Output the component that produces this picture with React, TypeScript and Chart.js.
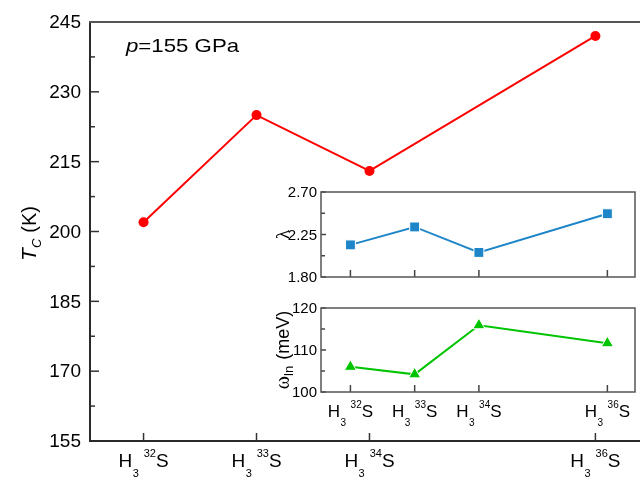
import React, { useEffect, useRef } from 'react';
import { Chart, registerables } from 'chart.js';

Chart.register(...registerables);

// ---- data ----
const isotopes = ['32', '33', '34', '36'];
const masses = [32, 33, 34, 36];
const tcValues = [202, 225, 213, 242];
const lambdaValues = [2.14, 2.33, 2.06, 2.47];
const omegaValues = [106.0, 104.2, 115.9, 111.6];
const tcTicks = [155, 170, 185, 200, 215, 230, 245];
const lambdaTicks = ['1.80', '2.25', '2.70'];
const omegaTicks = ['100', '110', '120'];
const pressureLabel = '=155 GPa';

const FONT = '"Liberation Sans", Arial, Helvetica, sans-serif';
const SERIF = '"Liberation Serif", "Times New Roman", serif';

type Run = { t: string; size: number; italic?: boolean; dy?: number; gap?: number; serif?: boolean };

function fontOf(r: Run) {
  return `${r.italic ? 'italic ' : ''}${r.size}px ${r.serif ? SERIF : FONT}`;
}
function runsWidth(ctx: CanvasRenderingContext2D, runs: Run[]) {
  let w = 0;
  for (const r of runs) {
    ctx.font = fontOf(r);
    w += ctx.measureText(r.t).width + (r.gap || 0);
  }
  return w;
}
function drawRuns(ctx: CanvasRenderingContext2D, runs: Run[], x: number, y: number, align: string) {
  const w = runsWidth(ctx, runs);
  let cx = align === 'left' ? x : align === 'center' ? x - w / 2 : x - w;
  ctx.textAlign = 'left';
  ctx.textBaseline = 'alphabetic';
  for (const r of runs) {
    ctx.font = fontOf(r);
    ctx.fillText(r.t, cx, y + (r.dy || 0));
    cx += ctx.measureText(r.t).width + (r.gap || 0);
  }
}
function isoRuns(mass: string, big: number, small: number): Run[] {
  return [
    { t: 'H', size: big, gap: 0.5 },
    { t: '3', size: small, dy: big * 0.5, gap: small * 0.45 },
    { t: mass, size: small, dy: -big * 0.55 },
    { t: 'S', size: big },
  ];
}
function line(ctx: CanvasRenderingContext2D, x1: number, y1: number, x2: number, y2: number) {
  ctx.beginPath();
  ctx.moveTo(x1, y1);
  ctx.lineTo(x2, y2);
  ctx.stroke();
}

const mainDecor = {
  id: 'mainDecor',
  beforeDatasetsDraw(chart: any) {
    const { ctx, chartArea: a, scales } = chart;
    const x = scales.x, y = scales.y;
    ctx.save();
    ctx.strokeStyle = '#333';
    ctx.lineWidth = 1.5;
    for (let i = 0; i < tcTicks.length; i++) {
      const py = y.getPixelForValue(tcTicks[i]);
      line(ctx, a.left, py, a.left + 9, py);
      if (i < tcTicks.length - 1) {
        const pm = y.getPixelForValue((tcTicks[i] + tcTicks[i + 1]) / 2);
        line(ctx, a.left, pm, a.left + 5, pm);
      }
    }
    for (const m of masses) {
      const px = x.getPixelForValue(m);
      line(ctx, px, a.bottom, px, a.bottom - 8);
    }
    ctx.lineWidth = 2;
    ctx.strokeStyle = '#2a2a2a';
    line(ctx, a.left, a.top - 1, a.left, a.bottom + 1);
    line(ctx, a.left - 1, a.bottom, a.right + 2, a.bottom);
    ctx.strokeStyle = '#555';
    line(ctx, a.left - 1, a.top, a.right + 2, a.top);

    ctx.fillStyle = '#000';
    ctx.font = `19px ${FONT}`;
    ctx.textAlign = 'right';
    ctx.textBaseline = 'middle';
    for (const v of tcTicks) {
      ctx.fillText(String(v), a.left - 9, y.getPixelForValue(v) + 1);
    }
    for (let i = 0; i < masses.length; i++) {
      drawRuns(ctx, isoRuns(isotopes[i], 19, 11), x.getPixelForValue(masses[i]), a.bottom + 26, 'center');
    }
    // y title
    ctx.save();
    ctx.translate(36, (a.top + a.bottom) / 2 + 2);
    ctx.rotate(-Math.PI / 2);
    drawRuns(ctx, [
      { t: 'T', size: 21, italic: true },
      { t: 'C', size: 13, italic: true, dy: 5, gap: 6 },
      { t: '(K)', size: 20 },
    ], 0, 0, 'center');
    ctx.restore();
    // pressure annotation (slightly wide, as in the source figure)
    ctx.save();
    ctx.translate(126, 52);
    ctx.scale(1.17, 1);
    drawRuns(ctx, [
      { t: 'p', size: 19, italic: true },
      { t: pressureLabel, size: 19 },
    ], 0, 0, 'left');
    ctx.restore();
    ctx.restore();
  },
};

function insetDecor(id: string, ticks: string[], showX: boolean, title: Run[]) {
  return {
    id,
    beforeDatasetsDraw(chart: any) {
      const { ctx, chartArea: a, scales } = chart;
      const x = scales.x, y = scales.y;
      ctx.save();
      ctx.strokeStyle = '#444';
      ctx.lineWidth = 1.5;
      for (let i = 0; i < ticks.length; i++) {
        const v = parseFloat(ticks[i]);
        const py = y.getPixelForValue(v);
        line(ctx, a.left, py, a.left + 5, py);
        if (i < ticks.length - 1) {
          const pm = y.getPixelForValue((v + parseFloat(ticks[i + 1])) / 2);
          line(ctx, a.left, pm, a.left + 4, pm);
        }
      }
      for (const m of masses) {
        const px = x.getPixelForValue(m);
        line(ctx, px, a.bottom, px, a.bottom - 7);
      }
      ctx.strokeStyle = '#555';
      ctx.strokeRect(a.left, a.top, a.right - a.left, a.bottom - a.top);

      ctx.fillStyle = '#000';
      ctx.font = `15px ${FONT}`;
      ctx.textAlign = 'right';
      ctx.textBaseline = 'middle';
      for (const t of ticks) {
        ctx.fillText(t, a.left - 4, y.getPixelForValue(parseFloat(t)) + 1);
      }
      if (showX) {
        for (let i = 0; i < masses.length; i++) {
          drawRuns(ctx, isoRuns(isotopes[i], 17, 10), x.getPixelForValue(masses[i]), a.bottom + 25, 'center');
        }
      }
      ctx.save();
      ctx.translate(289, (a.top + a.bottom) / 2);
      ctx.rotate(-Math.PI / 2);
      drawRuns(ctx, title, 0, 0, 'center');
      ctx.restore();
      ctx.restore();
    },
  };
}

function baseOptions(padding: any, xmin: number, xmax: number, ymin: number, ymax: number) {
  return {
    responsive: false,
    devicePixelRatio: 1,
    animation: false,
    layout: { padding },
    plugins: { legend: { display: false }, tooltip: { enabled: false } },
    scales: {
      x: { type: 'linear', display: false, min: xmin, max: xmax },
      y: { type: 'linear', display: false, min: ymin, max: ymax },
    },
  } as any;
}

export default function App() {
  const mainRef = useRef<HTMLCanvasElement>(null);
  const lamRef = useRef<HTMLCanvasElement>(null);
  const omRef = useRef<HTMLCanvasElement>(null);

  useEffect(() => {
    document.body.style.margin = '0';
    const main = new Chart(mainRef.current as HTMLCanvasElement, {
      type: 'line',
      data: {
        datasets: [{
          data: masses.map((m, i) => ({ x: m, y: tcValues[i] })),
          borderColor: '#ff0000',
          backgroundColor: '#ff0000',
          borderWidth: 2,
          pointRadius: 5,
          pointBorderWidth: 0,
          pointBackgroundColor: '#ff0000',
          clip: false,
        }],
      },
      options: baseOptions({ left: 90, top: 22, right: 0, bottom: 36 }, 31.526, 36.377, 155, 245),
      plugins: [mainDecor],
    } as any);

    const lam = new Chart(lamRef.current as HTMLCanvasElement, {
      type: 'line',
      data: {
        datasets: [{
          data: masses.map((m, i) => ({ x: m, y: lambdaValues[i] })),
          borderColor: '#1e86c8',
          borderWidth: 2,
          pointStyle: 'rect',
          pointRadius: 7,
          pointBorderWidth: 1,
          pointBorderColor: '#ffffff',
          pointBackgroundColor: '#1e86c8',
          clip: false,
        }],
      },
      options: baseOptions({ left: 321, top: 192, right: 6, bottom: 200 }, 31.542, 36.43, 1.8, 2.7),
      plugins: [insetDecor('lamDecor', lambdaTicks, false, [{ t: 'λ', size: 19, serif: true }])],
    } as any);

    const om = new Chart(omRef.current as HTMLCanvasElement, {
      type: 'line',
      data: {
        datasets: [{
          data: masses.map((m, i) => ({ x: m, y: omegaValues[i] })),
          borderColor: '#00c400',
          borderWidth: 2,
          pointStyle: 'triangle',
          pointRadius: 7,
          pointBorderWidth: 1,
          pointBorderColor: '#ffffff',
          pointBackgroundColor: '#00c400',
          clip: false,
        }],
      },
      options: baseOptions({ left: 321, top: 308, right: 6, bottom: 85 }, 31.542, 36.43, 100, 120),
      plugins: [insetDecor('omDecor', omegaTicks, true, [
        { t: 'ω', size: 20, serif: true },
        { t: 'ln', size: 13, dy: 4, gap: 6 },
        { t: '(meV)', size: 18 },
      ])],
    } as any);

    return () => {
      main.destroy();
      lam.destroy();
      om.destroy();
    };
  }, []);

  const cs: React.CSSProperties = { position: 'absolute', left: 0, top: 0 };
  return (
    <div style={{ position: 'absolute', left: 0, top: 0, width: 643, height: 477, background: '#fff', overflow: 'hidden' }}>
      <canvas ref={mainRef} width={643} height={477} style={cs} />
      <canvas ref={lamRef} width={643} height={477} style={cs} />
      <canvas ref={omRef} width={643} height={477} style={cs} />
    </div>
  );
}
